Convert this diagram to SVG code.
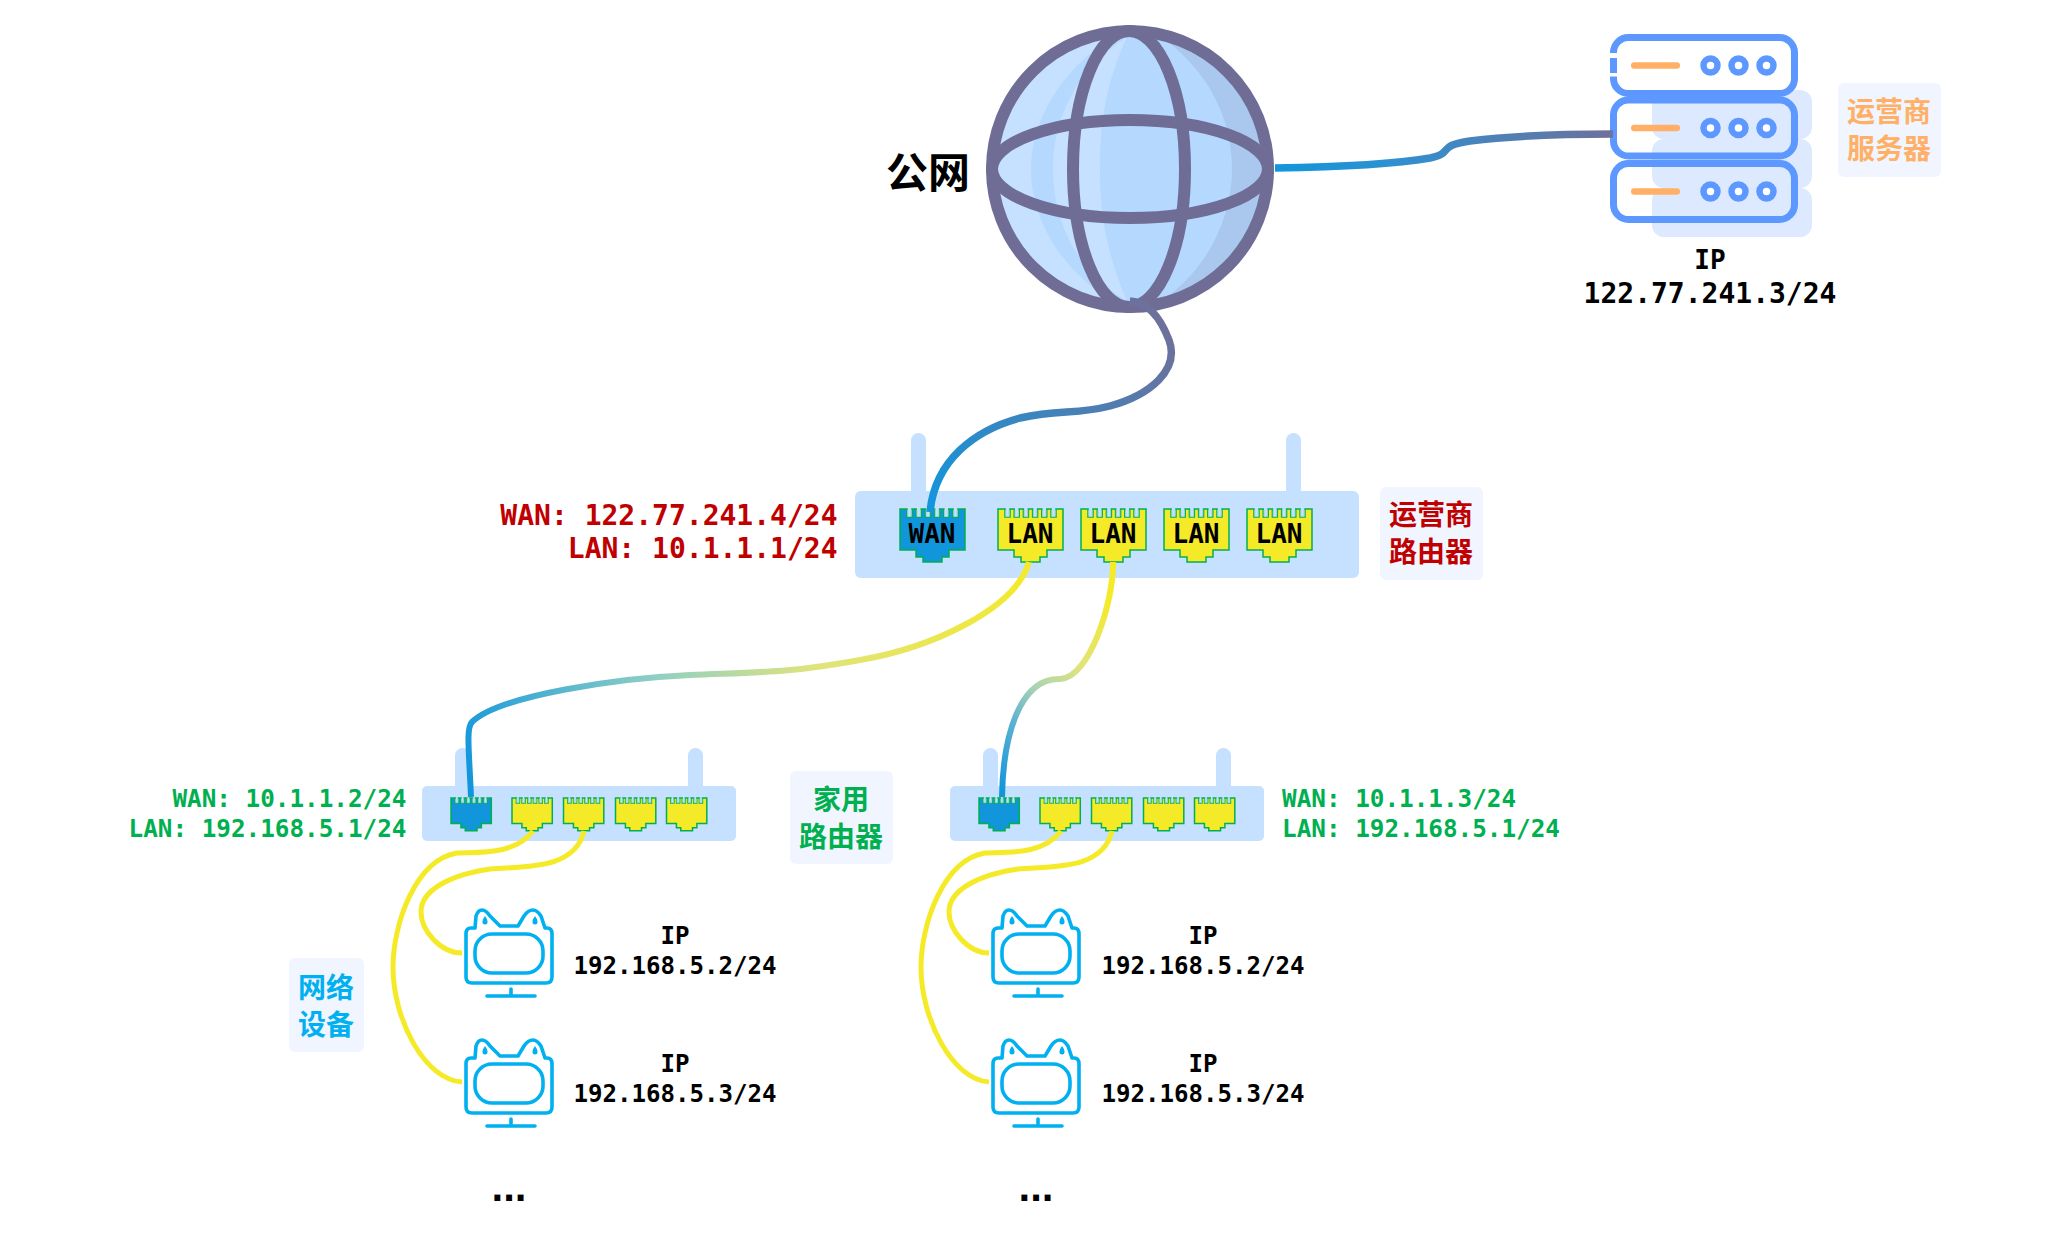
<svg xmlns="http://www.w3.org/2000/svg" xmlns:xlink="http://www.w3.org/1999/xlink" width="2060" height="1260" viewBox="0 0 2060 1260">
<style>
  text { font-family: "DejaVu Sans Mono", "Liberation Mono", "Noto Sans CJK SC", monospace; font-weight: 700; }
  .cn { font-family: "Noto Sans CJK SC", "Noto Sans", sans-serif; font-weight: 700; font-size: 28px; text-anchor: middle; }
  .ip { font-size: 24.100px; fill: #000; text-anchor: middle; }
  .ipl { font-size: 28px; fill: #000; text-anchor: middle; }
  .dots { font-size: 36px; fill: #000; text-anchor: middle; letter-spacing: -10px; }
  .tag { fill: #f0f5ff; }
  .shell { fill: #c6e0ff; }
  .cable { fill: none; stroke-width: 6; stroke-linecap: butt; }
  .thick { stroke-width: 7.500; }
  .pt { font-size: 26px; fill: #000; text-anchor: middle; }
  .rack { fill: none; stroke: #5c98ff; stroke-width: 7; }
  .mon { fill: none; stroke: #00b0f0; stroke-width: 3.600; stroke-linejoin: round; stroke-linecap: round; }
</style>
<defs>
  <linearGradient id="g-up" gradientUnits="userSpaceOnUse" x1="1160" y1="310" x2="930" y2="512"><stop offset="0" stop-color="#6f709a"/><stop offset="1" stop-color="#1296db"/></linearGradient>
  <linearGradient id="g-srv" gradientUnits="userSpaceOnUse" x1="1275" y1="168" x2="1616" y2="134"><stop offset="0" stop-color="#1296db"/><stop offset=".35" stop-color="#2f90d0"/><stop offset="1" stop-color="#6f709a"/></linearGradient>
  <linearGradient id="g-l1" gradientUnits="userSpaceOnUse" x1="1028" y1="562" x2="470" y2="780"><stop offset="0" stop-color="#f5ea27"/><stop offset=".4" stop-color="#dfe37e"/><stop offset=".65" stop-color="#8fcfc4"/><stop offset="1" stop-color="#1296db"/></linearGradient>
  <linearGradient id="g-l2" gradientUnits="userSpaceOnUse" x1="1113" y1="600" x2="1002" y2="790"><stop offset="0" stop-color="#f5ea27"/><stop offset=".35" stop-color="#dfe37e"/><stop offset=".52" stop-color="#a8d4b4"/><stop offset=".7" stop-color="#5fb2d2"/><stop offset="1" stop-color="#1296db"/></linearGradient>

  <!-- RJ45 socket outline, 65 wide by 53 tall -->
  <g id="socket">
    <path d="M0 0H7V8H12V0H16.200V8H21.200V0H25.400V8H30.400V0H34.600V8H39.600V0H43.800V8H48.800V0H53V8H58V0H65V41H49V48H42V53H23V48H16V41H0Z" stroke="#00b050" stroke-width="1.500" vector-effect="non-scaling-stroke"/>
    <path d="M7.800 1V7.500H11.200V1M17 1V7.500H20.400V1M26.200 1V7.500H29.600V1M35.400 1V7.500H38.800V1M44.600 1V7.500H48V1M53.800 1V7.500H57.200V1" fill="#c6e0ff" stroke="#93d6cb" stroke-width="1" vector-effect="non-scaling-stroke"/>
  </g>

  <g id="server-unit">
    <rect class="rack" x="0" y="0" width="181" height="56" rx="15"/>
    <rect x="17.500" y="24.700" width="49" height="6.500" rx="3.250" fill="#ffb066"/>
    <circle cx="97" cy="28" r="7" fill="#fff" stroke="#5c98ff" stroke-width="6.500"/>
    <circle cx="125" cy="28" r="7" fill="#fff" stroke="#5c98ff" stroke-width="6.500"/>
    <circle cx="153" cy="28" r="7" fill="#fff" stroke="#5c98ff" stroke-width="6.500"/>
  </g>

  <!-- cat-eared monitor -->
  <g id="monitor">
    <path class="mon" d="M475 928H471Q466 928 466 934V977Q466 983 472 983H546Q552 983 552 977V934Q552 928 547 928H545L541 916Q537 910 533 910Q528 910 524 916L518 926H500L490 916Q486 910 482 910Q478 910 476 916Z"/>
    <rect class="mon" x="475" y="934" width="68" height="39" rx="17"/>
    <path class="mon" d="M511 989V996M487 996H535"/>
    <path d="M485 916q3 4 2.500 6a2.500 2.500 0 0 1-5 0q-.5-2 2.500-6zM535 916q3 4 2.500 6a2.500 2.500 0 0 1-5 0q-.5-2 2.500-6z" fill="#00b0f0"/>
  </g>

  <!-- small router chassis with its five sockets -->
  <g id="mini-router">
    <rect class="shell" x="455" y="748" width="15" height="50" rx="7.500"/>
    <rect class="shell" x="688" y="748" width="15" height="50" rx="7.500"/>
    <rect class="shell" x="422" y="786" width="314" height="55" rx="5"/>
    <use xlink:href="#socket" href="#socket" fill="#1296db" transform="translate(451 798) scale(.62)"/>
    <use xlink:href="#socket" href="#socket" fill="#f5ea27" transform="translate(512 798) scale(.62)"/>
    <use xlink:href="#socket" href="#socket" fill="#f5ea27" transform="translate(563.500 798) scale(.62)"/>
    <use xlink:href="#socket" href="#socket" fill="#f5ea27" transform="translate(615.500 798) scale(.62)"/>
    <use xlink:href="#socket" href="#socket" fill="#f5ea27" transform="translate(666.500 798) scale(.62)"/>
  </g>
</defs>

<rect width="2060" height="1260" fill="#fff"/>

<g id="internet">
  <circle cx="1130" cy="169" r="138" fill="#c6e0ff"/>
  <path d="M1120 33C1068 62 1031 115 1031 169C1031 225 1068 278 1120 305L1130 307A138 138 0 0 0 1130 31Z" fill="#b5d8ff"/>
  <path d="M1127 37C1075 70 1053 120 1053 169C1053 220 1075 270 1127 301C1105 250 1100 210 1100 169C1100 125 1105 85 1127 37Z" fill="#c6e0ff"/>
  <path d="M1156 33A138 138 0 0 1 1156 305C1210 270 1232 215 1232 169C1232 120 1210 70 1156 33Z" fill="#aac8ee"/>
  <ellipse cx="1129" cy="169" rx="56" ry="138" fill="none" stroke="#6f6d96" stroke-width="12"/>
  <ellipse cx="1130" cy="169" rx="138" ry="49" fill="none" stroke="#6f6d96" stroke-width="12"/>
  <circle cx="1130" cy="169" r="138" fill="none" stroke="#6f6d96" stroke-width="12"/>
  <text x="928" y="188" class="cn" style="font-size:42px;fill:#000">公网</text>
</g>

<g id="isp-server">
  <rect x="1652" y="90" width="160" height="49" rx="12" fill="#dce9ff"/>
  <rect x="1652" y="139" width="160" height="49" rx="12" fill="#dce9ff"/>
  <rect x="1652" y="188" width="160" height="49" rx="12" fill="#dce9ff"/>
  <use xlink:href="#server-unit" href="#server-unit" transform="translate(1613.500 37.500)"/>
  <rect x="1607" y="53" width="11" height="5" fill="#fff"/>
  <rect x="1607" y="73" width="11" height="3.500" fill="#fff"/>
  <use xlink:href="#server-unit" href="#server-unit" transform="translate(1613.500 100)"/>
  <use xlink:href="#server-unit" href="#server-unit" transform="translate(1613.500 163.500)"/>
  <text x="1710" y="269" class="ipl" style="font-size:26px">IP</text>
  <text x="1710" y="303" class="ipl">122.77.241.3/24</text>
  <rect class="tag" x="1838" y="83" width="103" height="94" rx="6"/>
  <text x="1889" y="122" class="cn" fill="#ffb066">运营商</text>
  <text x="1889" y="159" class="cn" fill="#ffb066">服务器</text>
</g>

<g id="isp-router">
  <rect class="shell" x="911" y="433" width="15" height="70" rx="7.500"/>
  <rect class="shell" x="1286" y="433" width="15" height="70" rx="7.500"/>
  <rect class="shell" x="855" y="491" width="504" height="87" rx="6"/>
  <use xlink:href="#socket" href="#socket" fill="#1296db" transform="translate(900 509)"/>
  <use xlink:href="#socket" href="#socket" fill="#f5ea27" transform="translate(998 509)"/>
  <use xlink:href="#socket" href="#socket" fill="#f5ea27" transform="translate(1081 509)"/>
  <use xlink:href="#socket" href="#socket" fill="#f5ea27" transform="translate(1164 509)"/>
  <use xlink:href="#socket" href="#socket" fill="#f5ea27" transform="translate(1247 509)"/>
  <text x="837.500" y="525" font-size="28" fill="#c00000" text-anchor="end">WAN: 122.77.241.4/24</text>
  <text x="837.500" y="558" font-size="28" fill="#c00000" text-anchor="end">LAN: 10.1.1.1/24</text>
  <rect class="tag" x="1380" y="487" width="103" height="93" rx="6"/>
  <text x="1431" y="525" class="cn" fill="#c00000">运营商</text>
  <text x="1431" y="562" class="cn" fill="#c00000">路由器</text>
</g>

<g id="home-router-a">
  <use xlink:href="#mini-router" href="#mini-router"/>
  <text x="406.500" y="807" font-size="24.300" fill="#00b050" text-anchor="end">WAN: 10.1.1.2/24</text>
  <text x="406.500" y="837" font-size="24.300" fill="#00b050" text-anchor="end">LAN: 192.168.5.1/24</text>
  <rect class="tag" x="790" y="771" width="103" height="93" rx="6"/>
  <text x="841" y="810" class="cn" fill="#00b050">家用</text>
  <text x="841" y="847" class="cn" fill="#00b050">路由器</text>
</g>

<g id="home-router-b">
  <use xlink:href="#mini-router" href="#mini-router" transform="translate(528 0)"/>
  <text x="1282" y="807" font-size="24.300" fill="#00b050">WAN: 10.1.1.3/24</text>
  <text x="1282" y="837" font-size="24.300" fill="#00b050">LAN: 192.168.5.1/24</text>
</g>

<g id="devices-a">
  <use xlink:href="#monitor" href="#monitor"/>
  <use xlink:href="#monitor" href="#monitor" transform="translate(0 130)"/>
  <text x="675" y="944" class="ip">IP</text>
  <text x="675" y="974" class="ip">192.168.5.2/24</text>
  <text x="675" y="1072" class="ip">IP</text>
  <text x="675" y="1102" class="ip">192.168.5.3/24</text>
  <text x="504" y="1201" class="dots">...</text>
  <rect class="tag" x="289" y="958" width="75" height="94" rx="6"/>
  <text x="326" y="998" class="cn" fill="#00b0f0">网络</text>
  <text x="326" y="1035" class="cn" fill="#00b0f0">设备</text>
</g>

<g id="devices-b">
  <use xlink:href="#monitor" href="#monitor" transform="translate(527 0)"/>
  <use xlink:href="#monitor" href="#monitor" transform="translate(527 130)"/>
  <text x="1203" y="944" class="ip">IP</text>
  <text x="1203" y="974" class="ip">192.168.5.2/24</text>
  <text x="1203" y="1072" class="ip">IP</text>
  <text x="1203" y="1102" class="ip">192.168.5.3/24</text>
  <text x="1031" y="1201" class="dots">...</text>
</g>

<g id="connectors">
  <path class="cable thick" stroke="url(#g-up)" d="M1130 301C1150 302 1162 322 1169 340C1180 370 1150 395 1110 406C1075 415 1060 409 1020 418C975 430 935 460 930 512"/>
  <path class="cable thick" stroke="url(#g-srv)" d="M1275 168C1340 167 1395 164 1430 158C1455 153 1435 146 1470 141C1520 135 1570 134 1613 134"/>
  <path class="cable" stroke="url(#g-l1)" d="M1029 562C1015 610 930 648 860 660C790 673 760 672 690 675C620 678 500 695 472 722C466 728 469 750 471 797"/>
  <path class="cable" stroke="url(#g-l2)" d="M1113 562C1114 600 1090 678 1060 679C1020 678 1003 735 1002 797"/>
  <g fill="none" stroke="#f5ea27" stroke-width="5">
    <path d="M533 831C515 855 480 852 457 853C415 860 393 925 393 967C393 1020 425 1080 462 1082"/>
    <path d="M584 831C575 870 525 866 490 869C450 875 421 890 421 912C421 930 440 953 462 953"/>
    <path d="M1061 831C1043 855 1008 852 985 853C943 860 921 925 921 967C921 1020 953 1080 989 1082"/>
    <path d="M1112 831C1103 870 1053 866 1018 869C978 875 949 890 949 912C949 930 968 953 989 953"/>
  </g>
</g>

<g id="port-labels">
  <text x="932" y="543" class="pt">WAN</text>
  <text x="1030" y="543" class="pt">LAN</text>
  <text x="1113" y="543" class="pt">LAN</text>
  <text x="1196" y="543" class="pt">LAN</text>
  <text x="1279" y="543" class="pt">LAN</text>
</g>
</svg>
